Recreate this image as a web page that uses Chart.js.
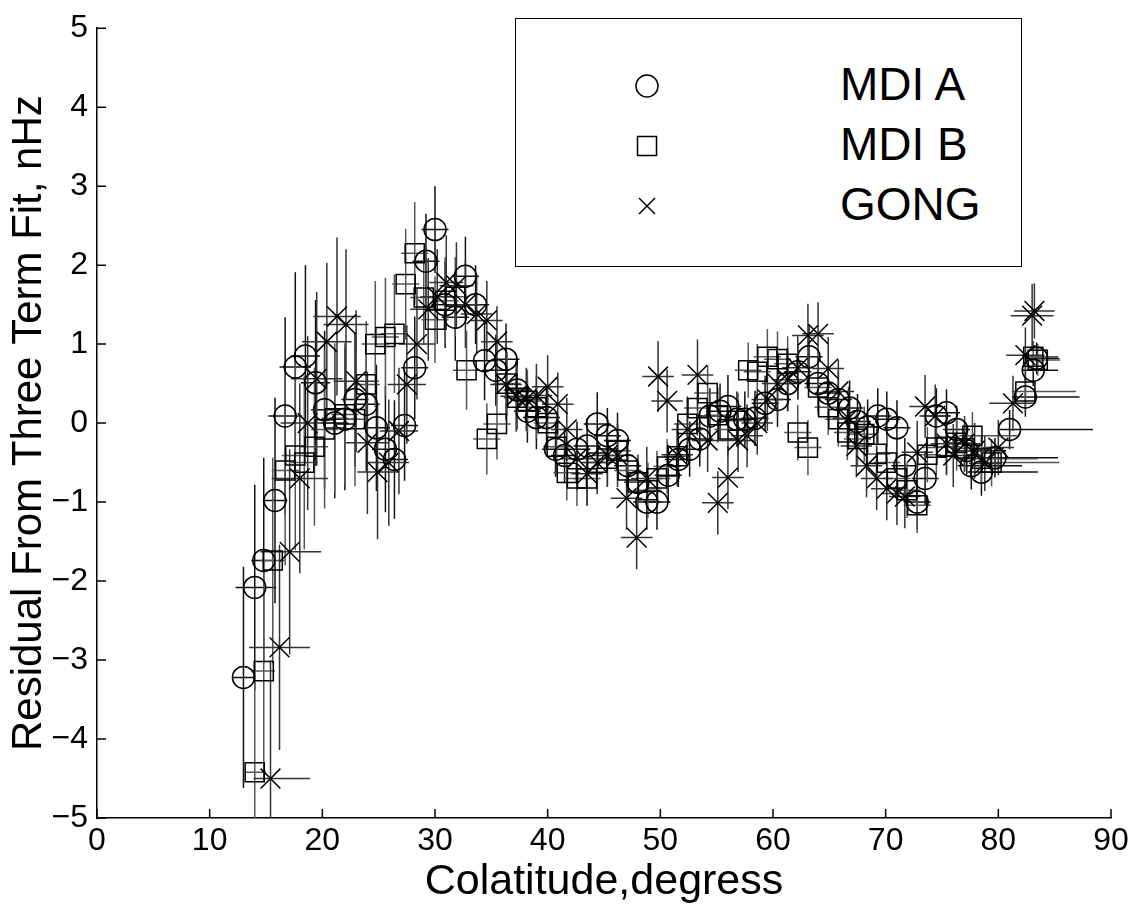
<!DOCTYPE html>
<html>
<head>
<meta charset="utf-8">
<script src="https://cdn.jsdelivr.net/npm/chart.js@4.4.0/dist/chart.umd.min.js"></script>
<style>
    html, body { margin: 0; padding: 0; background: #fff; }
    #wrap { position: relative; width: 1136px; height: 909px; }
    #legend {
        position: absolute; left: 515px; top: 18px; width: 507px; height: 249px;
        border: 1.5px solid #000; box-sizing: border-box; background: #fff;
        font-family: "Liberation Sans", Arial, sans-serif; font-size: 46px; color: #000;
    }
    .item { position: absolute; left: 0; height: 50px; width: 100%; }
    .item svg { position: absolute; left: 116px; top: 10px; }
    .item span { position: absolute; left: 324px; top: -2px; line-height: 50px; }
</style>
</head>
<body>
<div id="wrap">
    <canvas id="grafico" width="1136" height="909"></canvas>
    <div id="legend">
        <div class="item" style="top:42px">
            <svg width="30" height="30"><circle cx="15" cy="15" r="11" fill="none" stroke="#000" stroke-width="1.5"/></svg>
            <span>MDI A</span>
        </div>
        <div class="item" style="top:102px">
            <svg width="30" height="30"><rect x="5.5" y="5.5" width="19" height="19" fill="none" stroke="#000" stroke-width="1.5"/></svg>
            <span>MDI B</span>
        </div>
        <div class="item" style="top:162px">
            <svg width="30" height="30"><path d="M7 7 L23 23 M23 7 L7 23" stroke="#000" stroke-width="1.5"/></svg>
            <span>GONG</span>
        </div>
    </div>
</div>
<script>
const FONTE = "'Liberation Sans', Arial, sans-serif";

// MDI A (circulos)
const mdiAx = [13.0, 14.0, 14.8, 15.8, 16.7, 17.6, 18.5, 19.4, 20.2, 21.1,
    22.0, 22.9, 23.9, 24.8, 25.6, 26.4, 27.3, 28.2, 29.2, 30.0,
    30.9, 31.8, 32.7, 33.6, 34.4, 35.4, 36.3, 37.3, 38.2, 39.0,
    39.9, 40.7, 41.5, 42.6, 43.5, 44.4, 45.3, 46.2, 47.1, 48.0,
    48.8, 49.7, 50.7, 51.6, 52.6, 53.5, 54.4, 55.3, 56.0, 56.8,
    57.5, 58.4, 59.3, 60.4, 61.3, 62.2, 63.2, 64.0, 64.9, 65.8,
    66.8, 67.5, 68.4, 69.3, 70.1, 71.0, 71.7, 72.8, 73.5, 74.5,
    75.4, 76.3, 77.2, 77.6, 78.5, 79.7, 81.0, 82.4, 83.1, 83.4];
const mdiAy = [-3.22, -2.08, -1.74, -0.98, 0.09, 0.71, 0.85, 0.51, 0.17, 0.00,
    0.05, 0.30, 0.24, -0.06, -0.33, -0.46, -0.03, 0.70, 2.05, 2.45,
    1.50, 1.34, 1.86, 1.50, 0.79, 0.67, 0.81, 0.42, 0.15, 0.07,
    0.07, -0.33, -0.41, -0.33, -0.29, -0.01, -0.16, -0.22, -0.54, -0.75,
    -1.00, -1.00, -0.66, -0.46, -0.33, -0.20, 0.09, 0.15, 0.21, 0.05,
    0.05, 0.06, 0.25, 0.30, 0.50, 0.65, 0.84, 0.50, 0.38, 0.30,
    0.19, 0.02, -0.05, 0.09, 0.05, -0.06, -0.54, -1.00, -0.70, 0.09,
    0.13, -0.08, -0.35, -0.54, -0.62, -0.44, -0.08, 0.33, 0.67, 0.82];
const mdiAyErr = [1.40, 1.30, 1.30, 1.30, 1.25, 1.20, 1.15, 1.05, 1.00, 0.95,
    0.90, 0.85, 0.85, 0.80, 0.80, 0.75, 0.70, 0.65, 0.60, 0.55,
    0.55, 0.55, 0.50, 0.50, 0.50, 0.45, 0.45, 0.40, 0.40, 0.40,
    0.40, 0.35, 0.35, 0.35, 0.35, 0.40, 0.35, 0.35, 0.35, 0.35,
    0.35, 0.35, 0.35, 0.35, 0.35, 0.35, 0.35, 0.35, 0.40, 0.35,
    0.35, 0.35, 0.35, 0.35, 0.35, 0.35, 0.40, 0.35, 0.35, 0.35,
    0.35, 0.35, 0.35, 0.35, 0.35, 0.35, 0.35, 0.35, 0.35, 0.35,
    0.30, 0.30, 0.30, 0.30, 0.30, 0.25, 0.25, 0.25, 0.20, 0.20];
const mdiAxLo = [1.0, 1.7, 1.1, 1.1, 1.5, 1.4, 1.3, 1.3, 1.2, 1.2,
    1.2, 1.2, 1.2, 1.2, 1.2, 1.2, 1.2, 1.2, 1.2, 1.2,
    1.2, 1.2, 1.2, 1.2, 1.2, 1.2, 1.2, 1.2, 1.2, 1.2,
    1.2, 1.2, 1.2, 1.2, 1.2, 1.2, 1.2, 1.2, 1.2, 1.2,
    1.2, 1.2, 1.2, 1.2, 1.2, 1.2, 1.2, 1.2, 1.2, 1.2,
    1.2, 1.2, 1.2, 1.2, 1.2, 1.2, 1.2, 1.2, 1.2, 1.2,
    1.2, 1.2, 1.2, 1.2, 1.2, 1.2, 1.2, 1.2, 1.2, 1.2,
    1.2, 1.2, 1.2, 1.2, 1.2, 1.2, 0.9, 1.2, 1.0, 1.0];
const mdiAxHi = [1.0, 1.9, 1.1, 1.1, 1.5, 1.4, 1.3, 1.3, 1.2, 1.2,
    1.2, 1.2, 1.2, 1.2, 1.2, 1.2, 1.2, 1.2, 1.2, 1.2,
    1.2, 1.2, 1.2, 1.2, 1.2, 1.2, 1.2, 1.2, 1.2, 1.2,
    1.2, 1.2, 1.2, 1.2, 1.2, 1.2, 1.2, 1.2, 1.2, 1.2,
    1.2, 1.2, 1.2, 1.2, 1.2, 1.2, 1.2, 1.2, 1.2, 1.2,
    1.2, 1.2, 1.2, 1.2, 1.2, 1.2, 1.2, 1.2, 1.2, 1.2,
    1.2, 1.2, 1.2, 1.2, 1.2, 1.2, 1.2, 1.2, 1.2, 1.2,
    1.2, 1.2, 3.5, 4.5, 5.0, 5.6, 7.4, 4.8, 2.2, 2.0];

// MDI B (quadrados)
const mdiBx = [14.0, 14.8, 15.6, 16.7, 17.6, 18.4, 19.3, 20.2, 21.1, 22.0,
    22.9, 23.9, 24.7, 25.6, 26.4, 27.4, 28.2, 29.0, 30.0, 30.9,
    31.8, 32.8, 34.6, 35.5, 36.4, 37.3, 38.2, 39.0, 40.0, 40.8,
    41.7, 42.6, 43.5, 44.4, 45.3, 46.2, 47.1, 48.0, 48.9, 49.7,
    50.6, 51.5, 52.4, 53.3, 54.2, 55.1, 56.0, 56.9, 57.8, 58.6,
    59.5, 60.4, 61.3, 62.2, 63.1, 64.0, 64.9, 65.8, 66.6, 67.5,
    68.1, 69.2, 70.1, 71.0, 71.9, 72.8, 73.7, 74.5, 75.4, 76.3,
    77.0, 77.7, 78.5, 79.4, 82.4, 83.1, 83.5];
const mdiBy = [-4.42, -3.14, -1.74, -0.60, -0.41, -0.50, -0.30, -0.08, 0.06, 0.11,
    0.05, 0.49, 1.00, 1.09, 1.13, 1.76, 2.15, 1.59, 1.31, 1.55,
    1.60, 0.67, -0.20, -0.01, 0.50, 0.32, 0.28, 0.20, 0.00, -0.30,
    -0.63, -0.70, -0.70, -0.50, -0.45, -0.35, -0.60, -0.75, -0.85, -0.70,
    -0.55, -0.42, -0.01, 0.19, 0.38, 0.10, -0.08, 0.03, 0.67, 0.65,
    0.84, 0.81, 0.75, -0.12, -0.31, 0.45, 0.20, 0.05, -0.12, -0.20,
    -0.14, -0.39, -0.50, -0.70, -0.85, -1.04, -0.40, -0.31, -0.30, -0.25,
    -0.32, -0.16, -0.45, -0.50, 0.40, 0.84, 0.80];
const mdiByErr = [1.40, 1.40, 1.30, 1.20, 1.20, 1.10, 1.00, 1.00, 0.95, 0.90,
    0.85, 0.80, 0.80, 0.75, 0.75, 0.70, 0.65, 0.60, 0.55, 0.55,
    0.50, 0.50, 0.45, 0.45, 0.40, 0.40, 0.40, 0.40, 0.35, 0.35,
    0.35, 0.35, 0.35, 0.35, 0.35, 0.35, 0.35, 0.35, 0.35, 0.35,
    0.35, 0.35, 0.35, 0.35, 0.35, 0.35, 0.35, 0.35, 0.35, 0.35,
    0.35, 0.35, 0.35, 0.35, 0.35, 0.35, 0.35, 0.35, 0.35, 0.35,
    0.35, 0.35, 0.35, 0.35, 0.35, 0.35, 0.35, 0.35, 0.35, 0.35,
    0.30, 0.30, 0.30, 0.30, 0.25, 0.20, 0.20];
const mdiBxLo = [1.0, 1.0, 1.1, 1.2, 1.2, 1.2, 1.2, 1.2, 1.2, 1.2,
    1.2, 1.2, 1.2, 1.2, 1.2, 1.2, 1.2, 1.2, 1.2, 1.2,
    1.2, 1.2, 1.2, 1.2, 1.2, 1.2, 1.2, 1.2, 1.2, 1.2,
    1.2, 1.2, 1.2, 1.2, 1.2, 1.2, 1.2, 1.2, 1.2, 1.2,
    1.2, 1.2, 1.2, 1.2, 1.2, 1.2, 1.2, 1.2, 1.2, 1.2,
    1.2, 1.2, 1.2, 1.2, 1.2, 1.2, 1.2, 1.2, 1.2, 1.2,
    1.2, 1.2, 1.2, 1.2, 1.2, 1.2, 1.2, 1.2, 1.2, 1.2,
    1.2, 1.2, 1.2, 1.2, 1.2, 1.0, 1.0];
const mdiBxHi = [1.0, 1.0, 1.1, 1.2, 1.2, 1.2, 1.2, 1.2, 1.2, 1.2,
    1.2, 1.2, 1.2, 1.2, 1.2, 1.2, 1.2, 1.2, 1.2, 1.2,
    1.2, 1.2, 1.2, 1.2, 1.2, 1.2, 1.2, 1.2, 1.2, 1.2,
    1.2, 1.2, 1.2, 1.2, 1.2, 1.2, 1.2, 1.2, 1.2, 1.2,
    1.2, 1.2, 1.2, 1.2, 1.2, 1.2, 1.2, 1.2, 1.2, 1.2,
    1.2, 1.2, 1.2, 1.2, 1.2, 1.2, 1.2, 1.2, 1.2, 1.2,
    1.2, 1.2, 1.2, 1.2, 1.2, 1.2, 1.2, 1.2, 1.2, 1.2,
    3.5, 4.0, 5.0, 6.0, 4.5, 2.2, 2.0];

// GONG (x)
const gongX = [15.4, 16.2, 17.1, 18.0, 18.7, 19.5, 20.4, 21.3, 22.1, 23.0,
    24.0, 24.9, 25.9, 26.8, 27.5, 28.4, 29.4, 30.2, 31.0, 31.9,
    32.7, 33.7, 34.6, 35.5, 36.3, 37.2, 38.1, 39.0, 40.0, 40.9,
    41.7, 42.6, 43.5, 44.4, 45.3, 46.2, 47.0, 47.9, 48.8, 49.8,
    50.6, 51.5, 52.4, 53.3, 54.2, 55.1, 56.0, 56.9, 57.7, 58.6,
    59.5, 60.4, 61.3, 62.2, 63.1, 64.0, 64.9, 65.8, 66.7, 67.4,
    68.3, 69.2, 70.1, 71.0, 71.7, 72.8, 73.5, 74.4, 75.4, 76.0,
    77.0, 77.9, 78.8, 80.0, 81.3, 82.4, 83.0, 83.2];
const gongY = [-4.50, -2.84, -1.63, -0.70, 0.00, 0.56, 1.03, 1.35, 1.25, 0.53,
    -0.25, -0.62, -0.50, -0.10, 0.49, 1.00, 1.44, 1.60, 1.78, 1.74,
    1.50, 1.38, 1.30, 1.03, 0.49, 0.34, 0.30, 0.35, 0.46, 0.24,
    -0.08, -0.45, -0.64, -0.50, -0.41, -0.41, -0.95, -1.45, -0.70, 0.59,
    0.28, -0.40, -0.08, 0.61, -0.22, -1.01, -0.69, -0.22, -0.16, 0.00,
    0.30, 0.50, 0.55, 0.70, 1.11, 1.13, 0.69, 0.40, 0.06, -0.29,
    -0.54, -0.70, -0.83, -0.89, -0.93, -0.37, 0.21, 0.09, -0.26, -0.41,
    -0.26, -0.35, -0.51, -0.31, 0.25, 0.86, 1.36, 1.42];
const gongYErr = [1.50, 1.30, 1.30, 1.20, 1.10, 1.10, 1.00, 1.00, 0.95, 0.90,
    0.90, 0.85, 0.80, 0.80, 0.75, 0.70, 0.65, 0.60, 0.60, 0.55,
    0.55, 0.50, 0.50, 0.45, 0.45, 0.45, 0.40, 0.40, 0.40, 0.40,
    0.40, 0.40, 0.40, 0.40, 0.40, 0.40, 0.40, 0.40, 0.40, 0.45,
    0.40, 0.40, 0.40, 0.45, 0.40, 0.40, 0.40, 0.40, 0.40, 0.40,
    0.40, 0.40, 0.40, 0.40, 0.40, 0.40, 0.40, 0.40, 0.40, 0.40,
    0.40, 0.40, 0.40, 0.40, 0.40, 0.40, 0.40, 0.40, 0.40, 0.40,
    0.35, 0.35, 0.35, 0.35, 0.35, 0.35, 0.40, 0.35];
const gongXLo = [1.5, 2.7, 2.6, 2.5, 2.4, 2.3, 2.2, 2.1, 2.0, 2.0,
    1.9, 1.8, 1.8, 1.7, 1.7, 1.6, 1.6, 1.5, 1.5, 1.5,
    1.4, 1.4, 1.4, 1.4, 1.4, 1.4, 1.4, 1.4, 1.4, 1.4,
    1.4, 1.4, 1.4, 1.4, 1.4, 1.4, 1.4, 1.4, 1.4, 1.4,
    1.4, 1.4, 1.4, 1.4, 1.4, 1.4, 1.4, 1.4, 1.4, 1.4,
    1.4, 1.4, 1.4, 1.4, 1.4, 1.4, 1.4, 1.4, 1.4, 1.4,
    1.4, 1.4, 1.4, 1.4, 1.4, 1.4, 1.4, 1.4, 1.4, 1.4,
    1.4, 1.4, 1.4, 1.4, 2.1, 1.7, 1.9, 1.8];
const gongXHi = [3.5, 2.7, 2.8, 2.5, 2.4, 2.3, 2.2, 2.1, 2.0, 2.0,
    1.9, 1.8, 1.8, 1.7, 1.7, 1.6, 1.6, 1.5, 1.5, 1.5,
    1.4, 1.4, 1.4, 1.4, 1.4, 1.4, 1.4, 1.4, 1.4, 1.4,
    1.4, 1.4, 1.4, 1.4, 1.4, 1.4, 1.4, 1.4, 1.4, 1.4,
    1.4, 1.4, 1.4, 1.4, 1.4, 1.4, 1.4, 1.4, 1.4, 1.4,
    1.4, 1.4, 1.4, 1.4, 1.4, 1.4, 1.4, 1.4, 1.4, 1.4,
    1.4, 1.4, 1.4, 1.4, 1.4, 1.4, 1.4, 1.4, 1.4, 1.4,
    1.4, 1.4, 1.4, 1.4, 2.0, 1.7, 1.9, 1.8];

const xTicks = [0, 10, 20, 30, 40, 50, 60, 70, 80, 90];
const yTicks = [-5, -4, -3, -2, -1, 0, 1, 2, 3, 4, 5];

function montarPontos(xs, ys, yErr, xLo, xHi) {
    return xs.map((x, i) => ({ x: x, y: ys[i], yErr: yErr[i], xLo: xLo[i], xHi: xHi[i] }));
}

// barras de erro em x e y, desenhadas antes dos marcadores
const barrasErro = {
    id: "barrasErro",
    beforeDatasetsDraw(chart) {
        const { ctx, chartArea, scales: { x, y } } = chart;
        ctx.save();
        ctx.beginPath();
        ctx.rect(chartArea.left, chartArea.top, chartArea.width, chartArea.height);
        ctx.clip();
        chart.data.datasets.forEach(ds => {
            ctx.strokeStyle = ds.corBarra;
            ctx.lineWidth = 1.5;
            ds.data.forEach(p => {
                const px = x.getPixelForValue(p.x);
                const py = y.getPixelForValue(p.y);
                ctx.beginPath();
                ctx.moveTo(px, y.getPixelForValue(p.y - p.yErr));
                ctx.lineTo(px, y.getPixelForValue(p.y + p.yErr));
                ctx.moveTo(x.getPixelForValue(p.x - p.xLo), py);
                ctx.lineTo(x.getPixelForValue(p.x + p.xHi), py);
                ctx.stroke();
            });
        });
        ctx.restore();
    }
};

// ticks para dentro, como no matlab
const ticksDentro = {
    id: "ticksDentro",
    afterDraw(chart) {
        const { ctx, chartArea: { left, bottom }, scales: { x, y } } = chart;
        ctx.save();
        ctx.strokeStyle = "#000";
        ctx.lineWidth = 1.5;
        ctx.beginPath();
        x.ticks.forEach(t => {
            const px = x.getPixelForValue(t.value);
            ctx.moveTo(px, bottom);
            ctx.lineTo(px, bottom - 9);
        });
        y.ticks.forEach(t => {
            const py = y.getPixelForValue(t.value);
            ctx.moveTo(left, py);
            ctx.lineTo(left + 9, py);
        });
        ctx.stroke();
        ctx.restore();
    }
};

const ctx = document.getElementById("grafico").getContext("2d");
new Chart(ctx, {
    type: "scatter",
    data: {
        datasets: [
            {
                label: "MDI A",
                data: montarPontos(mdiAx, mdiAy, mdiAyErr, mdiAxLo, mdiAxHi),
                pointStyle: "circle", pointRadius: 11, pointHoverRadius: 11,
                borderColor: "#000", backgroundColor: "rgba(0,0,0,0)", borderWidth: 1.5,
                corBarra: "#111"
            },
            {
                label: "MDI B",
                data: montarPontos(mdiBx, mdiBy, mdiByErr, mdiBxLo, mdiBxHi),
                pointStyle: "rect", pointRadius: 13.5, pointHoverRadius: 13.5,
                borderColor: "#000", backgroundColor: "rgba(0,0,0,0)", borderWidth: 1.5,
                corBarra: "#555"
            },
            {
                label: "GONG",
                data: montarPontos(gongX, gongY, gongYErr, gongXLo, gongXHi),
                pointStyle: "crossRot", pointRadius: 14, pointHoverRadius: 14,
                borderColor: "#000", backgroundColor: "rgba(0,0,0,0)", borderWidth: 1.5,
                corBarra: "#333"
            }
        ]
    },
    options: {
        responsive: false,
        animation: false,
        devicePixelRatio: 1,
        layout: { padding: { left: 0, right: 25, top: 18, bottom: 0 } },
        plugins: { legend: { display: false }, tooltip: { enabled: false } },
        scales: {
            x: {
                type: "linear", min: 0, max: 90,
                afterBuildTicks: s => { s.ticks = xTicks.map(v => ({ value: v })); },
                afterFit: s => { s.height = 91; },
                ticks: { color: "#000", font: { family: FONTE, size: 32 }, padding: 4, maxRotation: 0 },
                grid: { display: false, drawTicks: false },
                border: { display: true, color: "#000", width: 1.5 },
                title: { display: true, text: "Colatitude,degress", color: "#000",
                         font: { family: FONTE, size: 43 }, padding: { top: 0, bottom: 1 } }
            },
            y: {
                type: "linear", min: -5, max: 5,
                afterBuildTicks: s => { s.ticks = yTicks.map(v => ({ value: v })); },
                afterFit: s => { s.width = 97; },
                ticks: {
                    color: "#000", font: { family: FONTE, size: 32 }, padding: 9,
                    callback: v => (v < 0 ? "\u2212" + Math.abs(v) : String(v))
                },
                grid: { display: false, drawTicks: false },
                border: { display: true, color: "#000", width: 1.5 },
                title: { display: true, text: "Residual From Three Term Fit, nHz", color: "#000",
                         font: { family: FONTE, size: 42 }, padding: { top: 4, bottom: 0 } }
            }
        }
    },
    plugins: [barrasErro, ticksDentro]
});
</script>
</body>
</html>
